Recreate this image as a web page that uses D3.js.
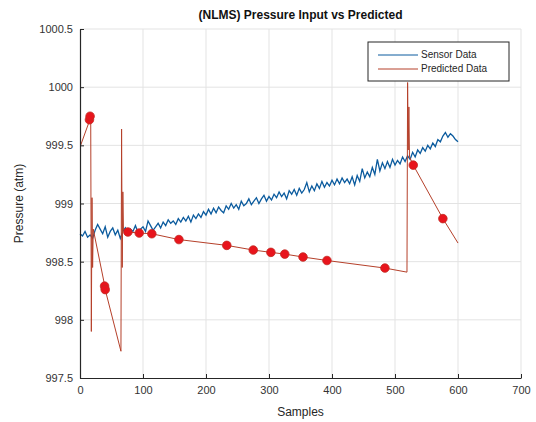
<!DOCTYPE html>
<html>
<head>
<meta charset="utf-8">
<script src="https://cdn.jsdelivr.net/npm/d3@7"></script>
<style>
  body { margin: 0; background: #fff; }
  text { font-family: "Liberation Sans", Arial, sans-serif; }
</style>
</head>
<body>
<div id="chart"></div>
<script>
// ---- data ----
const xTicks = [0, 100, 200, 300, 400, 500, 600, 700];
const yTicks = [997.5, 998, 998.5, 999, 999.5, 1000, 1000.5];

// sensor data, one value every 4 samples (0..600)
const sensorStep = 4;
const sensorValues = [
  998.74, 998.72, 998.76, 998.71, 998.73, 998.70, 998.77, 998.82, 998.78, 998.74,
  998.80, 998.71, 998.76, 998.79, 998.73, 998.77, 998.70, 998.76, 998.79, 998.74,
  998.78, 998.76, 998.81, 998.75, 998.78, 998.80, 998.76, 998.85, 998.81, 998.77,
  998.80, 998.83, 998.79, 998.84, 998.81, 998.86, 998.83, 998.85, 998.82, 998.87,
  998.84, 998.88, 998.85, 998.89, 998.84, 998.90, 998.87, 998.91, 998.88, 998.93,
  998.90, 998.95, 998.91, 998.96, 998.92, 998.97, 998.94, 998.92, 998.98, 998.95,
  999.00, 998.96, 998.99, 998.95, 999.02, 998.98, 999.00, 999.04, 998.99, 999.02,
  999.05, 999.00, 999.04, 999.07, 999.02, 999.06, 999.03, 999.08, 999.05, 999.10,
  999.06, 999.09, 999.04, 999.11, 999.08, 999.12, 999.07, 999.13, 999.09, 999.12,
  999.18, 999.10, 999.15, 999.11, 999.17, 999.13, 999.19, 999.14, 999.18, 999.15,
  999.20, 999.16, 999.21, 999.17, 999.22, 999.18, 999.21, 999.17, 999.23, 999.16,
  999.24, 999.19, 999.30, 999.22, 999.27, 999.23, 999.31, 999.25, 999.38, 999.28,
  999.35, 999.30, 999.36, 999.31, 999.38, 999.33, 999.37, 999.34, 999.40, 999.36,
  999.41, 999.38, 999.44, 999.40, 999.46, 999.43, 999.48, 999.45, 999.50, 999.47,
  999.52, 999.49, 999.55, 999.53, 999.58, 999.61, 999.57, 999.60, 999.58, 999.55,
  999.53
];

// predicted data (sample, value)
const predSamples = [1, 15, 16, 17, 18, 19, 20, 21, 39, 40, 65, 66, 67, 68, 69,
  76, 94, 114, 157, 233, 275, 303, 325, 354, 392, 484, 519, 520, 521, 522, 523, 529, 576, 600];
const predValues = [999.50, 999.71, 999.75, 999.76, 997.90, 999.05, 998.45, 998.78, 998.30, 998.26, 997.73, 999.64, 998.45, 999.10, 998.77,
  998.755, 998.746, 998.74, 998.69, 998.64, 998.60, 998.58, 998.565, 998.54, 998.51, 998.445, 998.41, 1000.04, 999.46, 999.83, 999.40, 999.33, 998.87, 998.66];

// red markers on the predicted line
const markerSamples = [15, 16, 39, 40, 76, 94, 114, 157, 233, 275, 303, 325, 354, 392, 484, 529, 576];
const markerValues = [999.72, 999.75, 998.29, 998.26, 998.755, 998.746, 998.74, 998.69, 998.64, 998.60, 998.58, 998.565, 998.54, 998.51, 998.445, 999.33, 998.87];

const seriesNames = ["Sensor Data", "Predicted Data"];
const seriesColors = ["#0b5b9e", "#b5402a"];

// set the dimensions and margins of the graph
const margin = {top: 29, right: 15, bottom: 44, left: 80},
    width = 536 - margin.left - margin.right,
    height = 422 - margin.top - margin.bottom;

const svg = d3.select("#chart")
    .append("svg")
    .attr("width", width + margin.left + margin.right)
    .attr("height", height + margin.top + margin.bottom)
    .append("g")
    .attr("transform", `translate(${margin.left},${margin.top})`);

const x = d3.scaleLinear().domain([0, 700]).range([0, width]);
const y = d3.scaleLinear().domain([997.5, 1000.5]).range([height, 0]);

// grid
svg.append("g")
    .selectAll("line")
    .data(xTicks.slice(1))
    .join("line")
    .attr("x1", d => x(d)).attr("x2", d => x(d))
    .attr("y1", 0).attr("y2", height)
    .attr("stroke", "#e3e3e3");
svg.append("g")
    .selectAll("line")
    .data(yTicks.slice(1))
    .join("line")
    .attr("x1", 0).attr("x2", width)
    .attr("y1", d => y(d)).attr("y2", d => y(d))
    .attr("stroke", "#e3e3e3");

// sensor line
const sensorData = sensorValues.map((v, i) => ({s: i * sensorStep, v: v}));
svg.append("path")
    .datum(sensorData)
    .attr("fill", "none")
    .attr("stroke", seriesColors[0])
    .attr("stroke-width", 1.3)
    .attr("d", d3.line().x(d => x(d.s)).y(d => y(d.v)));

// predicted line
const predData = predSamples.map((s, i) => ({s: s, v: predValues[i]}));
svg.append("path")
    .datum(predData)
    .attr("fill", "none")
    .attr("stroke", seriesColors[1])
    .attr("stroke-width", 1)
    .attr("d", d3.line().x(d => x(d.s)).y(d => y(d.v)));

// markers
svg.append("g")
    .selectAll("circle")
    .data(markerSamples.map((s, i) => ({s: s, v: markerValues[i]})))
    .join("circle")
    .attr("cx", d => x(d.s))
    .attr("cy", d => y(d.v))
    .attr("r", 4.3)
    .attr("fill", "#e8141c")
    .attr("stroke", "#c22a22")
    .attr("stroke-width", 0.8);

// axes (ticks point inward, MATLAB style)
const xAxis = svg.append("g")
    .attr("transform", `translate(0, ${height})`)
    .call(d3.axisBottom(x).tickValues(xTicks).tickSizeInner(-4).tickSizeOuter(0).tickPadding(8));
const yAxis = svg.append("g")
    .call(d3.axisLeft(y).tickValues(yTicks).tickFormat(d3.format("")).tickSizeInner(-4).tickSizeOuter(0).tickPadding(7));
[xAxis, yAxis].forEach(a => {
    a.select(".domain").attr("stroke", "#262626").attr("stroke-width", 1.2);
    a.selectAll(".tick line").attr("stroke", "#262626");
    a.selectAll(".tick text").attr("fill", "#333").style("font-size", "11px")
        .style("font-family", "'Liberation Sans', Arial, sans-serif");
});

// title and labels
svg.append("text")
    .attr("x", width / 2)
    .attr("y", -10)
    .attr("text-anchor", "middle")
    .style("font-size", "12px")
    .style("font-weight", "bold")
    .attr("fill", "#111")
    .text("(NLMS) Pressure Input vs Predicted");

svg.append("text")
    .attr("x", width / 2)
    .attr("y", height + 38)
    .attr("text-anchor", "middle")
    .style("font-size", "12px")
    .attr("fill", "#262626")
    .text("Samples");

svg.append("text")
    .attr("transform", `translate(${-57}, ${height / 2}) rotate(-90)`)
    .attr("text-anchor", "middle")
    .style("font-size", "12px")
    .attr("fill", "#262626")
    .text("Pressure (atm)");

// legend
const legend = svg.append("g")
    .attr("transform", `translate(${368 - margin.left}, ${42 - margin.top})`);
legend.append("rect")
    .attr("width", 141)
    .attr("height", 39)
    .attr("fill", "#fff")
    .attr("stroke", "#262626")
    .attr("stroke-width", 1);
legend.selectAll("line")
    .data(seriesNames)
    .join("line")
    .attr("x1", 10).attr("x2", 50)
    .attr("y1", (d, i) => 13 + i * 14).attr("y2", (d, i) => 13 + i * 14)
    .attr("stroke", (d, i) => seriesColors[i])
    .attr("stroke-width", 1);
legend.selectAll("text")
    .data(seriesNames)
    .join("text")
    .attr("x", 53)
    .attr("y", (d, i) => 13 + i * 14)
    .attr("dominant-baseline", "middle")
    .style("font-size", "10px")
    .attr("fill", "#262626")
    .text(d => d);
</script>
</body>
</html>
